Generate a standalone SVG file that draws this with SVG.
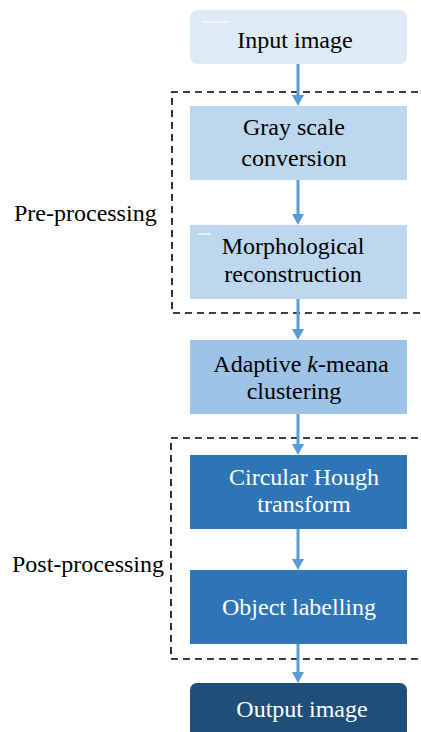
<svg xmlns="http://www.w3.org/2000/svg" width="421" height="732" viewBox="0 0 421 732">
<defs>
<style>
text{font-family:"Liberation Serif","Times New Roman",serif;font-size:24px;text-anchor:middle}
.dk{fill:#000}
.lt{fill:#fff}
.lab{text-anchor:start}
.dash{fill:none;stroke:#000;stroke-width:1.6;stroke-dasharray:7,5}
.arr{stroke:#5B9BD5;stroke-width:3;fill:none}
.ah{fill:#5B9BD5}
</style>
</defs>
<rect width="421" height="732" fill="#fff"/>
<g id="groups">
<path class="dash" d="M430,92 L172,92 L172,313 L430,313"/>
<path class="dash" d="M430,438 L171,438 L171,659 L430,659"/>
<text class="dk lab" x="14" y="221">Pre-processing</text>
<text class="dk lab" x="12" y="572">Post-processing</text>
</g>
<g id="connectors">
<line class="arr" x1="298" y1="64" x2="298" y2="96"/><path class="ah" d="M292,95 L304,95 L298,106 Z"/>
<line class="arr" x1="298" y1="180" x2="298" y2="215"/><path class="ah" d="M292,214 L304,214 L298,225 Z"/>
<line class="arr" x1="298" y1="299" x2="298" y2="330"/><path class="ah" d="M292,329 L304,329 L298,340 Z"/>
<line class="arr" x1="298" y1="414" x2="298" y2="445"/><path class="ah" d="M292,444 L304,444 L298,455 Z"/>
<line class="arr" x1="298" y1="529" x2="298" y2="560"/><path class="ah" d="M292,559 L304,559 L298,570 Z"/>
<line class="arr" x1="298" y1="644" x2="298" y2="673"/><path class="ah" d="M292,672 L304,672 L298,683 Z"/>
</g>
<g id="input">
<rect x="190" y="10" width="217" height="54" rx="7" fill="#DEEAF6"/>
<line x1="202" y1="22" x2="229" y2="22" stroke="#fff" stroke-width="1.2"/>
<text class="dk" x="295" y="48">Input image</text>
</g>
<g id="gray">
<rect x="190" y="106" width="217" height="74" fill="#BDD7EE"/>
<text class="dk" x="294" y="135">Gray scale</text>
<text class="dk" x="294" y="166">conversion</text>
</g>
<g id="morph">
<rect x="190" y="225" width="217" height="74" fill="#BDD7EE"/>
<line x1="198" y1="234" x2="211" y2="234" stroke="#fff" stroke-width="1.2"/>
<text class="dk" x="293" y="254">Morphological</text>
<text class="dk" x="293" y="282">reconstruction</text>
</g>
<g id="adaptive">
<rect x="190" y="340" width="217" height="74" fill="#9DC3E6"/>
<text class="dk" x="301" y="372">Adaptive <tspan font-style="italic">k</tspan>-meana</text>
<text class="dk" x="294" y="399">clustering</text>
</g>
<g id="hough">
<rect x="190" y="455" width="217" height="74" fill="#2E75B6"/>
<text class="lt" x="304" y="485">Circular Hough</text>
<text class="lt" x="304" y="512">transform</text>
</g>
<g id="label">
<rect x="190" y="570" width="217" height="74" fill="#2E75B6"/>
<text class="lt" x="299" y="615">Object labelling</text>
</g>
<g id="output">
<rect x="190" y="683" width="217" height="70" rx="7" fill="#1F4E79"/>
<text class="lt" x="302" y="717">Output image</text>
</g>
</svg>
